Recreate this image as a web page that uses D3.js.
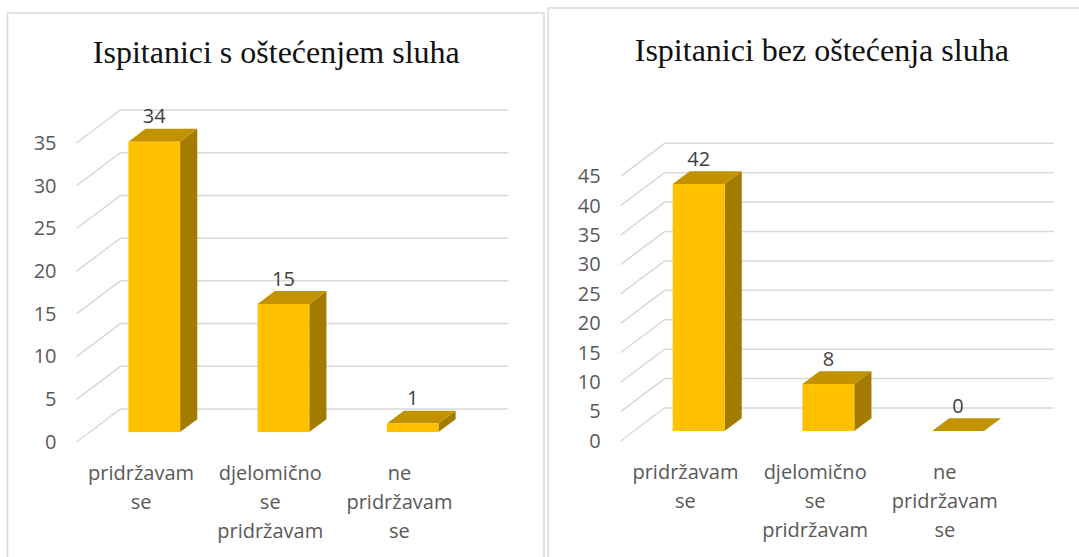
<!DOCTYPE html>
<html>
<head>
<meta charset="utf-8">
<script src="https://cdn.jsdelivr.net/npm/d3@7"></script>
<style>
  html, body { margin: 0; padding: 0; background: #fff; }
  svg { display: block; }
</style>
</head>
<body>
<svg id="chart" width="1079" height="557"></svg>
<script>
const categories = ['pridržavam se', 'djelomično se pridržavam', 'ne pridržavam se']
const valuesWithLoss = [34, 15, 1]
const valuesWithoutLoss = [42, 8, 0]
const ticksWithLoss = [0, 5, 10, 15, 20, 25, 30, 35]
const ticksWithoutLoss = [0, 5, 10, 15, 20, 25, 30, 35, 40, 45]
const titleWithLoss = 'Ispitanici s oštećenjem sluha'
const titleWithoutLoss = 'Ispitanici bez oštećenja sluha'

const colors = {
  front: '#ffc000',
  top: '#c39200',
  side: '#a37b00',
  grid: '#d9d9d9',
  frame: '#d9d9d9',
  tick: '#595959',
  value: '#404040',
  title: '#111'
}

// 3d floor depth in px (back wall -> front)
const depthX = 44
const depthY = 33
// bars sit between these depth fractions, 0 = back wall, 1 = front edge
const barBack = 0.31
const barFront = 0.7

const sans = '"Open Sans", "Noto Sans", sans-serif'
const svg = d3.select('#chart')

function drawChart (opts) {
  const g = svg.append('g')

  g.append('rect')
    .attr('x', opts.frame[0])
    .attr('y', opts.frame[1])
    .attr('width', opts.frame[2])
    .attr('height', opts.frame[3])
    .attr('fill', 'none')
    .attr('stroke', colors.frame)
    .attr('stroke-width', 1.5)

  g.append('text')
    .attr('x', opts.titleX)
    .attr('y', opts.titleY)
    .attr('text-anchor', 'middle')
    .attr('font-family', '"Liberation Serif", "Times New Roman", serif')
    .attr('font-size', 32)
    .attr('fill', colors.title)
    .text(opts.title)

  const y = d3.scaleLinear().domain([0, opts.max]).range([opts.y0, opts.yTop])
  const x = d3.scaleBand()
    .domain(opts.categories)
    .range([opts.x0, opts.x1])
    .paddingInner(0.6)
    .paddingOuter(0.3)

  // point on the back plane moved forward by depth fraction f
  const pt = (xb, v, f) => [xb - depthX * f, y(v) + depthY * f]

  // gridlines: diagonal on the side wall + horizontal on the back wall
  g.append('g')
    .selectAll('path')
    .data(opts.ticks)
    .join('path')
    .attr('d', t => {
      const a = pt(opts.x0, t, 1)
      const b = pt(opts.x0, t, 0)
      return `M${a[0]},${a[1]}L${b[0]},${b[1]}L${opts.x1},${b[1]}`
    })
    .attr('fill', 'none')
    .attr('stroke', colors.grid)
    .attr('stroke-width', 1.5)

  // tick labels on the front edge
  const yFront = y.copy().range([opts.y0 + depthY, opts.yTop + depthY])
  const axis = g.append('g')
    .attr('transform', `translate(${opts.x0 - depthX},0)`)
    .call(d3.axisLeft(yFront).tickValues(opts.ticks).tickSize(0).tickPadding(20))
  axis.select('.domain').remove()
  axis.selectAll('text')
    .attr('font-family', sans)
    .attr('font-size', 20)
    .attr('fill', colors.tick)

  const data = opts.categories.map((c, i) => ({ c, v: opts.values[i] }))
  const poly = pts => pts.map(p => p.join(',')).join(' ')

  const bars = g.append('g')
    .selectAll('g')
    .data(data)
    .join('g')

  bars.append('polygon')
    .attr('points', d => {
      const xr = x(d.c) + x.bandwidth()
      return poly([pt(xr, d.v, barFront), pt(xr, 0, barFront), pt(xr, 0, barBack), pt(xr, d.v, barBack)])
    })
    .attr('fill', colors.side)

  bars.append('polygon')
    .attr('points', d => {
      const xl = x(d.c)
      const xr = xl + x.bandwidth()
      return poly([pt(xl, d.v, barFront), pt(xr, d.v, barFront), pt(xr, d.v, barBack), pt(xl, d.v, barBack)])
    })
    .attr('fill', colors.top)

  bars.append('rect')
    .attr('x', d => pt(x(d.c), d.v, barFront)[0])
    .attr('y', d => pt(x(d.c), d.v, barFront)[1])
    .attr('width', x.bandwidth())
    .attr('height', d => y(0) - y(d.v))
    .attr('fill', colors.front)

  bars.append('text')
    .attr('x', d => pt(x(d.c) + x.bandwidth() / 2, d.v, barFront)[0])
    .attr('y', d => pt(0, d.v, barBack)[1] - 5.5)
    .attr('text-anchor', 'middle')
    .attr('font-family', sans)
    .attr('font-size', 20)
    .attr('fill', colors.value)
    .text(d => d.v)

  // category labels, one word per line
  const labels = g.append('g')
    .selectAll('text')
    .data(opts.categories)
    .join('text')
    .attr('x', c => pt(x(c) + x.bandwidth() / 2, 0, 1)[0])
    .attr('y', pt(0, 0, 1)[1] + 38)
    .attr('text-anchor', 'middle')
    .attr('font-family', sans)
    .attr('font-size', 20)
    .attr('fill', colors.tick)

  labels.selectAll('tspan')
    .data(c => c.split(' ').map(w => ({ w, c })))
    .join('tspan')
    .attr('x', d => pt(x(d.c) + x.bandwidth() / 2, 0, 1)[0])
    .attr('dy', (d, i) => i === 0 ? 0 : 29)
    .text(d => d.w)
}

drawChart({
  title: titleWithLoss,
  categories,
  values: valuesWithLoss,
  ticks: ticksWithLoss,
  max: 35,
  frame: [7.5, 13, 536.5, 600],
  titleX: 276.3,
  titleY: 63.3,
  x0: 120.5,
  x1: 508,
  y0: 409,
  yTop: 110
})

drawChart({
  title: titleWithoutLoss,
  categories,
  values: valuesWithoutLoss,
  ticks: ticksWithoutLoss,
  max: 45,
  frame: [548, 8, 600, 600],
  titleX: 821.8,
  titleY: 60.5,
  x0: 664.6,
  x1: 1053.7,
  y0: 408,
  yTop: 143.3
})
</script>
</body>
</html>
